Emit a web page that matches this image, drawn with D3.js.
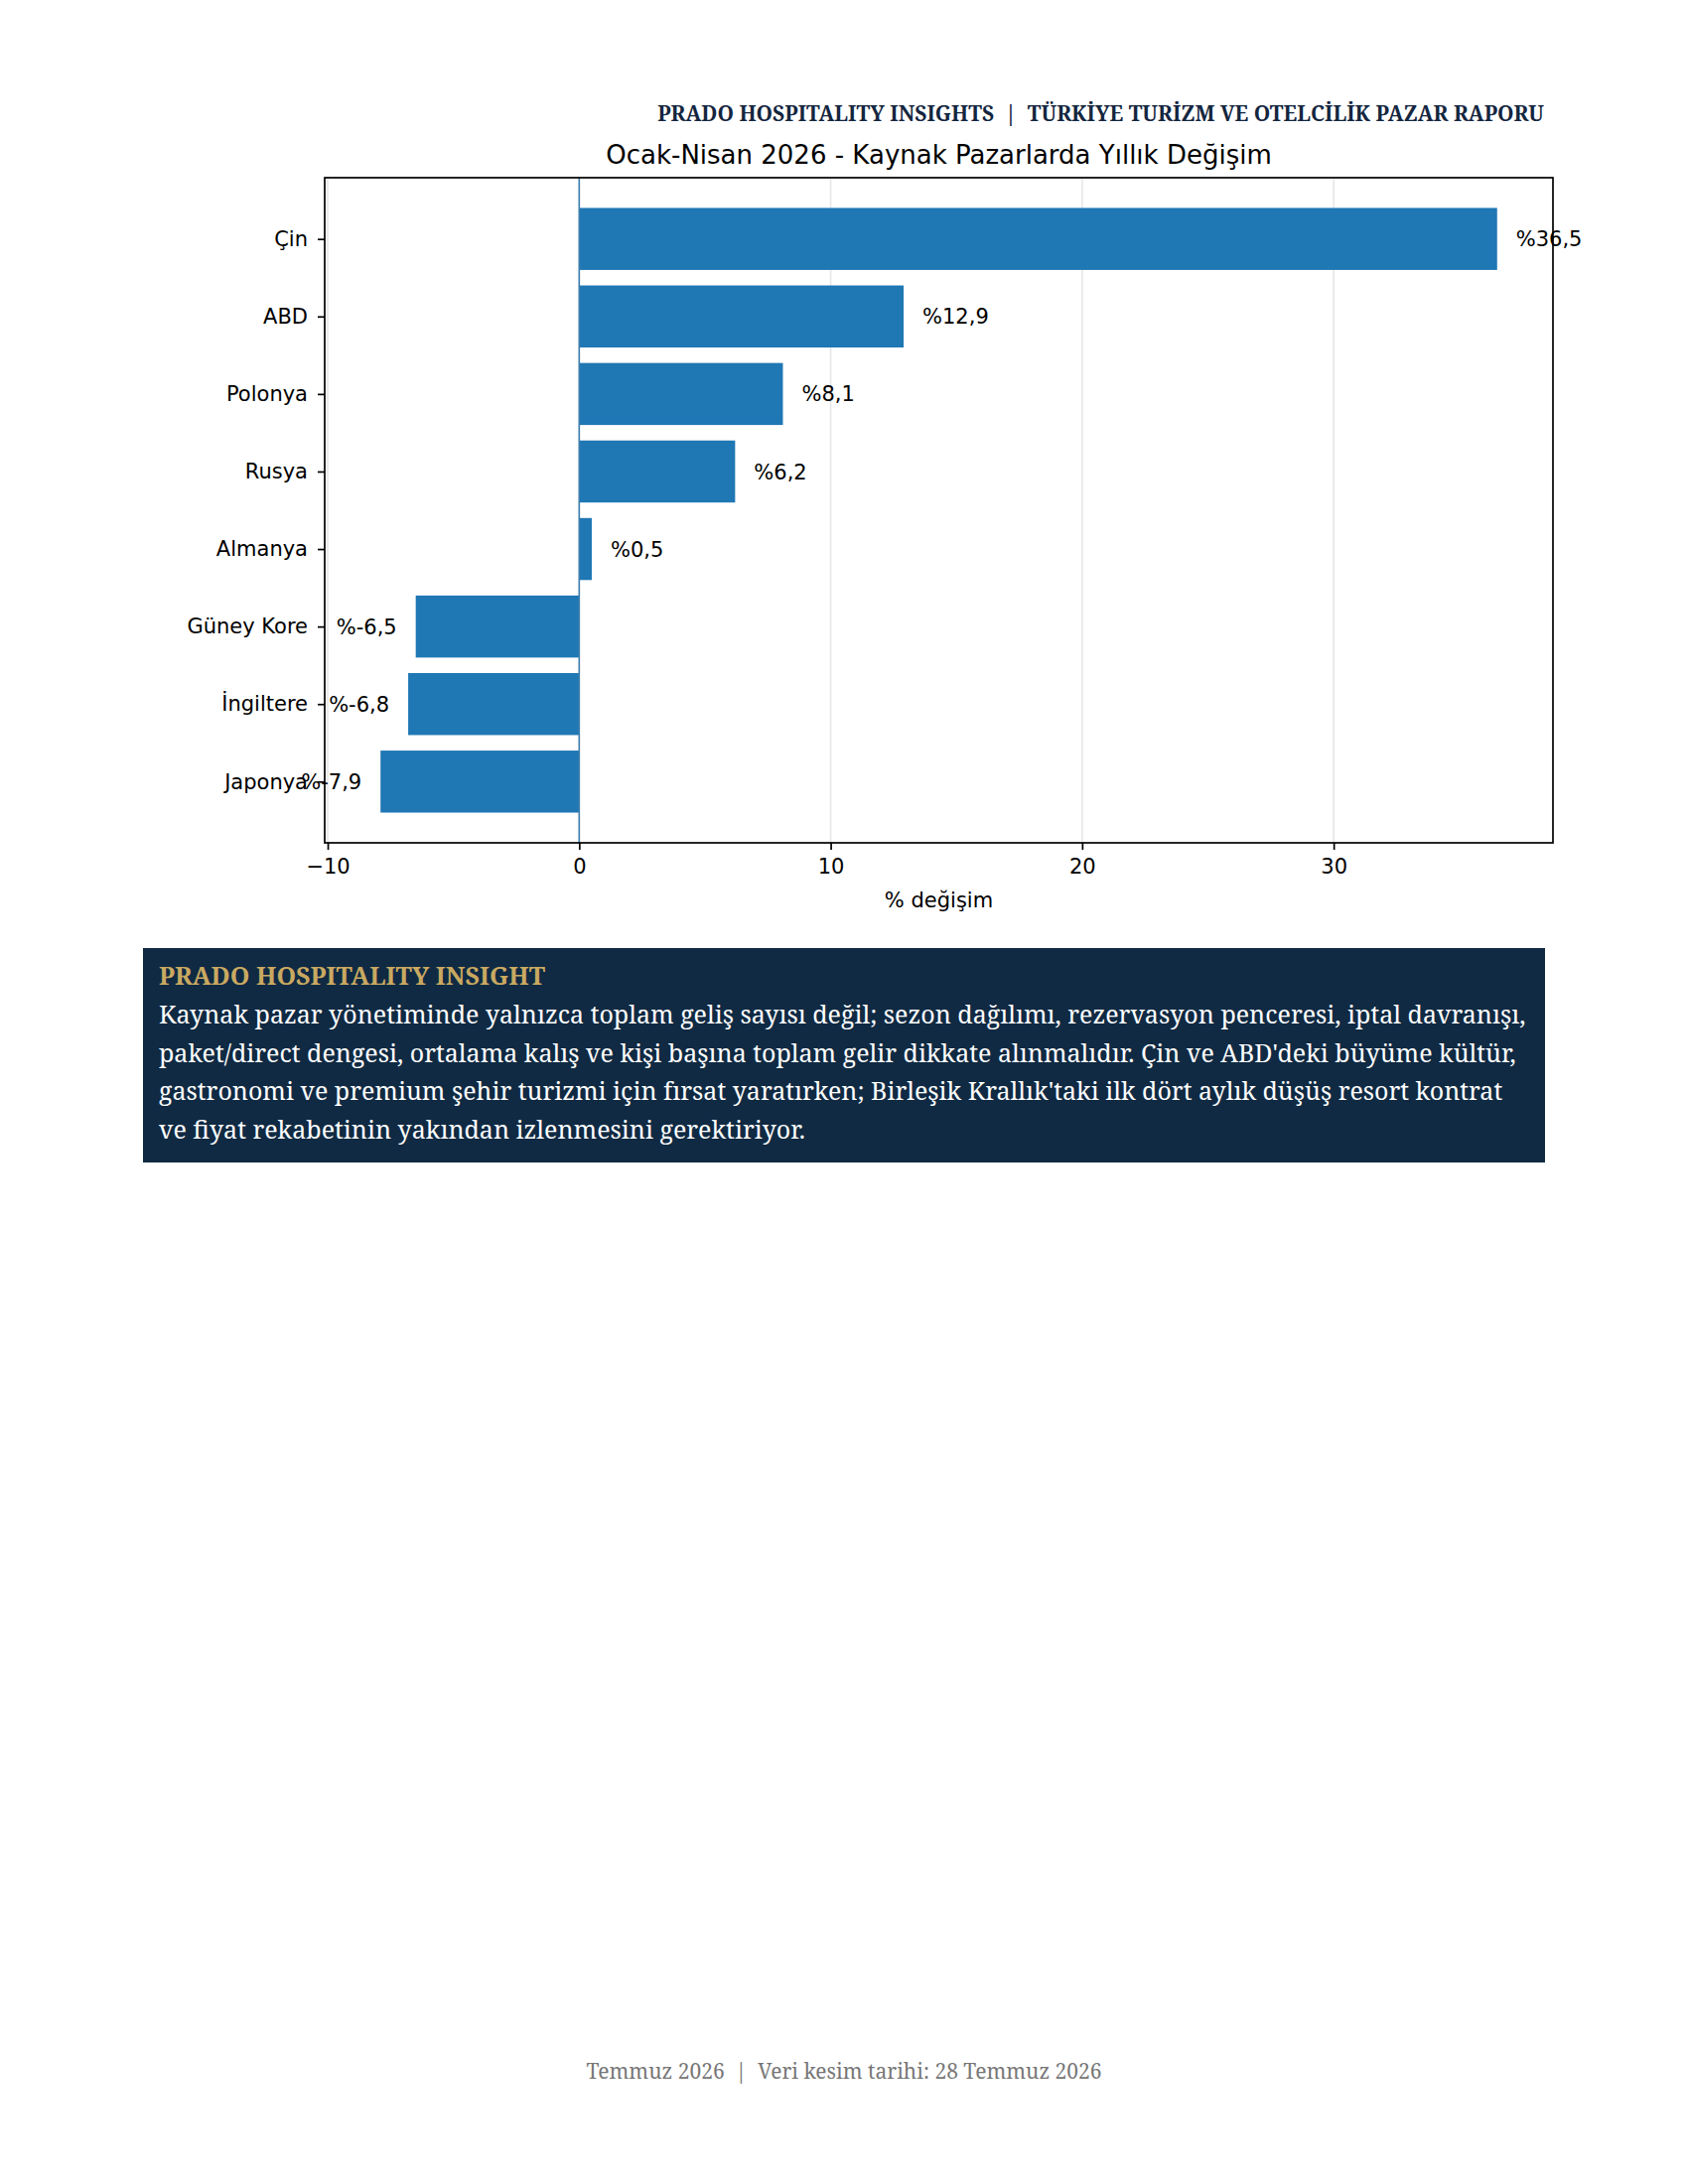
<!DOCTYPE html>
<html>
<head>
<meta charset="utf-8">
<script src="https://cdn.jsdelivr.net/npm/d3@7"></script>
<style>
  body { margin: 0; background: #fff; }
</style>
</head>
<body>
<script>
// data
const markets = ['Çin', 'ABD', 'Polonya', 'Rusya', 'Almanya', 'Güney Kore', 'İngiltere', 'Japonya']
const change = [36.5, 12.9, 8.1, 6.2, 0.5, -6.5, -6.8, -7.9]
const xTicks = [-10, 0, 10, 20, 30]

const headerText = 'PRADO HOSPITALITY INSIGHTS  |  TÜRKİYE TURİZM VE OTELCİLİK PAZAR RAPORU'
const chartTitle = 'Ocak-Nisan 2026 - Kaynak Pazarlarda Yıllık Değişim'
const xLabel = '% değişim'
const insightTitle = 'PRADO HOSPITALITY INSIGHT'
const insightLines = [
  "Kaynak pazar yönetiminde yalnızca toplam geliş sayısı değil; sezon dağılımı, rezervasyon penceresi, iptal davranışı,",
  "paket/direct dengesi, ortalama kalış ve kişi başına toplam gelir dikkate alınmalıdır. Çin ve ABD'deki büyüme kültür,",
  "gastronomi ve premium şehir turizmi için fırsat yaratırken; Birleşik Krallık'taki ilk dört aylık düşüş resort kontrat",
  "ve fiyat rekabetinin yakından izlenmesini gerektiriyor."
]
const footerText = 'Temmuz 2026  |  Veri kesim tarihi: 28 Temmuz 2026'

const W = 1700, H = 2200
const serif = '"Noto Serif", "DejaVu Serif", serif'
const sans = '"DejaVu Sans", sans-serif'

const svg = d3.select('body').append('svg')
  .attr('width', W)
  .attr('height', H)

// header
svg.append('text')
  .attr('x', 1555).attr('y', 122)
  .attr('text-anchor', 'end')
  .style('font-family', serif)
  .style('font-weight', 'bold')
  .style('font-size', '21px')
  .style('fill', '#14263f')
  .attr('xml:space', 'preserve')
  .text(headerText)

// chart
const plot = { left: 327, top: 179, right: 1564, bottom: 849 }

const x = d3.scaleLinear()
  .domain([-7.9 - 44.4 * 0.05, 36.5 + 44.4 * 0.05])
  .range([plot.left, plot.right])

const y = d3.scaleLinear()
  .domain([-0.79, 7.79])
  .range([plot.top, plot.bottom])

const g = svg.append('g')

// grid
g.selectAll('.grid')
  .data(xTicks)
  .join('line')
  .attr('x1', d => x(d)).attr('x2', d => x(d))
  .attr('y1', plot.top).attr('y2', plot.bottom)
  .attr('stroke', '#b0b0b0')
  .attr('stroke-opacity', 0.3)
  .attr('stroke-width', 1.6)

// bars
g.selectAll('.bar')
  .data(change)
  .join('rect')
  .attr('x', d => x(Math.min(0, d)))
  .attr('width', d => Math.abs(x(d) - x(0)))
  .attr('y', (d, i) => y(i - 0.4))
  .attr('height', y(0.8) - y(0))
  .attr('fill', '#1f77b4')

// zero line
g.append('line')
  .attr('x1', x(0)).attr('x2', x(0))
  .attr('y1', plot.top).attr('y2', plot.bottom)
  .attr('stroke', '#3f7fae')
  .attr('stroke-width', 1.6)

// value labels
g.selectAll('.val')
  .data(change)
  .join('text')
  .attr('x', d => d >= 0 ? x(d) + 19 : x(d) - 19)
  .attr('y', (d, i) => y(i))
  .attr('dy', '0.36em')
  .attr('text-anchor', d => d >= 0 ? 'start' : 'end')
  .style('font-family', sans)
  .style('font-size', '21px')
  .style('fill', '#000')
  .text(d => '%' + d.toFixed(1).replace('.', ','))

// frame
svg.append('rect')
  .attr('x', plot.left).attr('y', plot.top)
  .attr('width', plot.right - plot.left)
  .attr('height', plot.bottom - plot.top)
  .attr('fill', 'none')
  .attr('stroke', '#000')
  .attr('stroke-width', 1.7)

// y axis
const yAxis = svg.append('g')
  .attr('transform', `translate(${plot.left},0)`)
  .call(d3.axisLeft(y).tickValues(d3.range(markets.length)).tickFormat(i => markets[i]).tickSize(7).tickPadding(10))
yAxis.select('.domain').remove()
yAxis.selectAll('line').attr('stroke-width', 1.7)
yAxis.selectAll('text')
  .style('font-family', sans)
  .style('font-size', '21px')
  .style('fill', '#000')

// x axis
const xAxis = svg.append('g')
  .attr('transform', `translate(0,${plot.bottom})`)
  .call(d3.axisBottom(x).tickValues(xTicks).tickFormat(d => d < 0 ? '\u2212' + Math.abs(d) : d).tickSize(7).tickPadding(9))
xAxis.select('.domain').remove()
xAxis.selectAll('line').attr('stroke-width', 1.7)
xAxis.selectAll('text')
  .style('font-family', sans)
  .style('font-size', '21px')
  .style('fill', '#000')

svg.append('text')
  .attr('x', (plot.left + plot.right) / 2).attr('y', 914)
  .attr('text-anchor', 'middle')
  .style('font-family', sans)
  .style('font-size', '21px')
  .text(xLabel)

svg.append('text')
  .attr('x', (plot.left + plot.right) / 2).attr('y', 165)
  .attr('text-anchor', 'middle')
  .style('font-family', sans)
  .style('font-size', '26px')
  .text(chartTitle)

// insight box
svg.append('rect')
  .attr('x', 144).attr('y', 955)
  .attr('width', 1412).attr('height', 216)
  .attr('fill', '#102a43')

svg.append('text')
  .attr('x', 160).attr('y', 992)
  .style('font-family', serif)
  .style('font-weight', 'bold')
  .style('font-size', '25px')
  .style('fill', '#c9a961')
  .text(insightTitle)

svg.append('g')
  .selectAll('text')
  .data(insightLines)
  .join('text')
  .attr('x', 160)
  .attr('y', (d, i) => 1031 + i * 38.7)
  .style('font-family', serif)
  .style('font-size', '25px')
  .style('fill', '#fff')
  .text(d => d)

// footer
svg.append('text')
  .attr('x', 850).attr('y', 2094)
  .attr('text-anchor', 'middle')
  .attr('xml:space', 'preserve')
  .style('font-family', serif)
  .style('font-size', '21px')
  .style('fill', '#777')
  .text(footerText)
</script>
</body>
</html>
